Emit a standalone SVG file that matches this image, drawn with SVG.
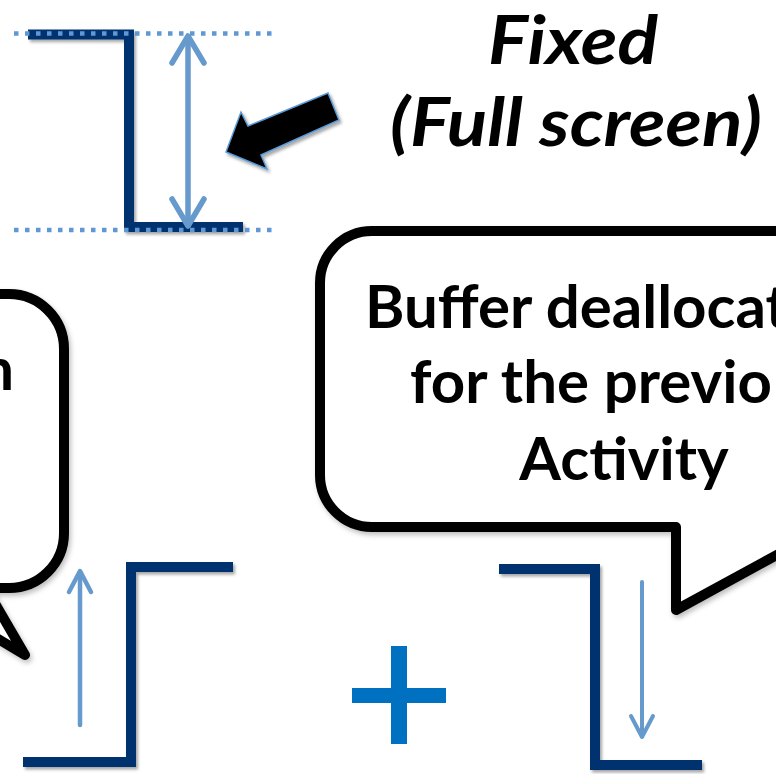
<svg xmlns="http://www.w3.org/2000/svg" width="776" height="774" viewBox="0 0 776 774">
  <defs>
    <filter id="shadow" x="-20%" y="-20%" width="140%" height="140%">
      <feDropShadow dx="2" dy="2.5" stdDeviation="1.6" flood-color="#000" flood-opacity="0.35"/>
    </filter>
    <filter id="softShadow" x="-20%" y="-20%" width="140%" height="140%">
      <feDropShadow dx="2" dy="3" stdDeviation="2.5" flood-color="#000" flood-opacity="0.25"/>
    </filter>
  </defs>
  <style>
    .guide { fill: none; stroke: #5f98d2; stroke-width: 4.5; stroke-dasharray: 4.5 6.5; }
    .step { fill: none; stroke: #00306f; stroke-width: 10; stroke-linejoin: miter; stroke-linecap: butt; }
    .span { fill: none; stroke: #6699cc; stroke-linecap: round; stroke-linejoin: round; }
    .bubble { fill: #ffffff; stroke: #000000; stroke-width: 10; stroke-linejoin: round; }
    .title { font-family: Lato, "Liberation Sans", sans-serif; font-weight: bold; font-style: italic; font-size: 66px; fill: #000; text-anchor: middle; }
    .label { font-family: Lato, "Liberation Sans", sans-serif; font-weight: bold; font-size: 60px; fill: #000; }
  </style>

  <rect width="776" height="774" fill="#ffffff"/>

  <!-- Full-screen height: guide lines, step outline and span arrow -->
  <g id="fixed-height">
    <line class="guide" x1="14" y1="33.5" x2="278" y2="33.5" filter="url(#shadow)"/>
    <line class="guide" x1="14" y1="230" x2="278" y2="230" filter="url(#shadow)"/>
    <polyline class="step" points="28,34.5 129,34.5 129,227 243,227" stroke-width="9" filter="url(#shadow)"/>
    <line class="guide" x1="14" y1="33.5" x2="278" y2="33.5"/>
    <line class="guide" x1="14" y1="230" x2="278" y2="230"/>
    <g class="span" stroke-width="5.5">
      <line x1="188" y1="37" x2="188" y2="225"/>
      <polyline points="172,63 188,36 204,63"/>
      <polyline points="172,199 188,226 204,199"/>
    </g>
  </g>

  <!-- Pointer block arrow -->
  <g id="pointer">
    <polygon points="226,152 241,112 248,126 328,93 339,120 261,155 267,169" fill="#000" stroke="#5b9bd5" stroke-width="1.5" stroke-linejoin="miter" filter="url(#shadow)"/>
  </g>

  <!-- Title -->
  <g id="title">
    <text class="title" x="573" y="64" textLength="170" lengthAdjust="spacingAndGlyphs">Fixed</text>
    <text class="title" x="576" y="146" textLength="372" lengthAdjust="spacingAndGlyphs">(Full screen)</text>
  </g>

  <!-- Left callout -->
  <g id="callout-left">
    <path class="bubble" d="M -150,294 L 9,294 A 55,55 0 0 1 64,349 L 64,533 A 55,55 0 0 1 9,588 L -14,588 L 25,655 L -87,588 L -150,588 Z" filter="url(#softShadow)"/>
    <text class="label" x="14" y="390" text-anchor="end">n</text>
  </g>

  <!-- Right callout -->
  <g id="callout-right">
    <path class="bubble" d="M 850,231 L 372,231 A 52,52 0 0 0 320,283 L 320,475 A 52,52 0 0 0 372,527 L 676,527 L 676,610 L 850,515 Z" filter="url(#softShadow)"/>
    <text class="label" x="365" y="328">Buffer deallocat</text>
    <text class="label" x="410" y="403">for the previo</text>
    <text class="label" x="624" y="480" text-anchor="middle">Activity</text>
  </g>

  <!-- Rising step (allocation) -->
  <g id="step-up">
    <polyline class="step" points="23,762 131,762 131,567 233,567" filter="url(#shadow)"/>
    <g class="span" stroke-width="4.5">
      <line x1="80" y1="725" x2="80" y2="572"/>
      <polyline points="69,592 80,571 91,592"/>
    </g>
  </g>

  <!-- Plus sign -->
  <g id="plus">
    <rect x="391" y="646" width="16" height="98" fill="#0070c0"/>
    <rect x="352" y="688" width="94" height="15" fill="#0070c0"/>
  </g>

  <!-- Falling step (deallocation) -->
  <g id="step-down">
    <polyline class="step" points="499,569 595,569 595,765 702,765" filter="url(#shadow)"/>
    <g class="span" stroke-width="4">
      <line x1="642" y1="582" x2="642" y2="735"/>
      <polyline points="631,716 642,737 653,716"/>
    </g>
  </g>
</svg>
